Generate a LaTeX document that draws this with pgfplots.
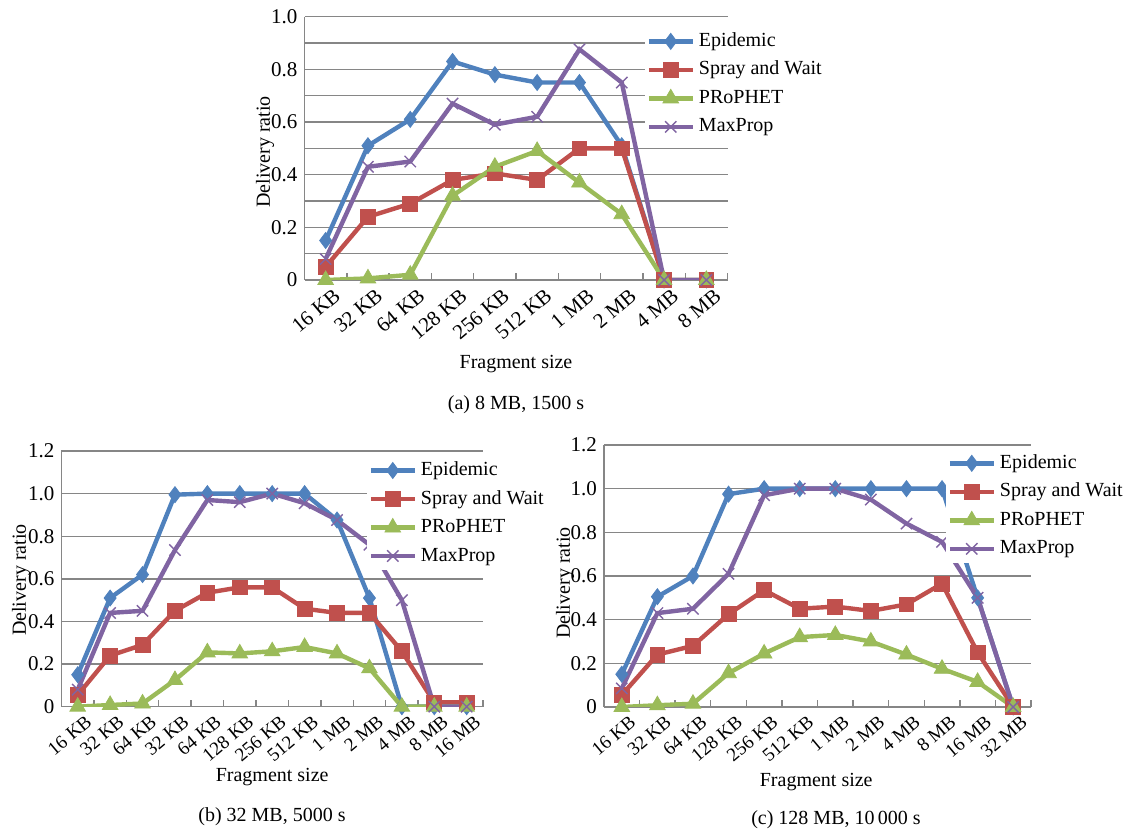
\documentclass[border=0pt]{standalone}
\usepackage{pgfplots}
\pgfplotsset{compat=1.18}
\usepackage{fontspec}
\setmainfont{Liberation Serif}

\definecolor{cEpi}{RGB}{79,129,189}
\definecolor{cSpr}{RGB}{192,80,77}
\definecolor{cPro}{RGB}{155,187,89}
\definecolor{cMax}{RGB}{128,100,162}
\definecolor{gridgray}{RGB}{134,134,134}

\pgfplotsset{
  myaxis/.style={
    scale only axis,
    anchor=south west,
    axis x line=bottom, axis y line=left,
    axis line style={-, draw=gridgray, line width=0.8pt},
    ymin=0,
    ymajorgrids,
    major grid style={draw=gridgray, line width=0.7pt},
    minor grid style={draw=gridgray, line width=0.7pt},
    major tick length=0pt,
    minor tick length=3.5pt,
    tick align=inside,
    minor tick style={draw=gridgray, line width=0.7pt},
    ytick style={draw=none},
    /pgf/number format/assume math mode=true,
    tick label style={font=\fontsize{10.5}{12}\selectfont},
    xticklabel style={xshift=3.5pt, yshift=-3.5pt, rotate=40, anchor=north east, inner sep=0pt},
    label style={font=\fontsize{10}{12}\selectfont},
    legend cell align=left,
    legend style={draw=none, fill=white, anchor=north west,
      font=\fontsize{10}{12}\selectfont,
      nodes={inner ysep=0pt, text height=7.5pt, text depth=2.5pt},
      row sep=4.25pt, inner xsep=1pt, inner ysep=2pt},
    legend image code/.code={\draw[mark repeat=2,mark phase=2] plot coordinates {(0pt,0pt)(11pt,0pt)(22pt,0pt)};},
    every axis plot/.append style={line width=2.2pt},
  },
  sEpi/.style={color=cEpi, mark=diamond*, mark size=4pt, mark options={solid, line width=0.4pt}},
  sSpr/.style={color=cSpr, mark=square*, mark size=3.7pt, mark options={solid, line width=0.4pt}},
  sPro/.style={color=cPro, mark=triangle*, mark size=4.5pt, mark options={solid, line width=0.4pt}},
  sMax/.style={color=cMax, mark=x, mark size=4pt, mark options={solid, line width=0.7pt}},
}

\begin{document}
\begin{tikzpicture}
\path[use as bounding box] (0,0) rectangle (566pt,415.5pt);

% (a)
\begin{axis}[myaxis,
  at={(152.25pt,275.5pt)}, width=211.5pt, height=131.65pt,
  xmin=-0.5, xmax=9.5, ymax=1.0,
  xtick={0,...,9},
  xticklabels={16 KB,32 KB,64 KB,128 KB,256 KB,512 KB,1 MB,2 MB,4 MB,8 MB},
  minor xtick={-0.5,0.5,...,9.5},
  ytick={0,0.2,0.4,0.6,0.8,1.0},
  yticklabels={0,0.2,0.4,0.6,0.8,1.0},
  minor ytick={0.1,0.3,0.5,0.7,0.9}, yminorgrids,
  xlabel={Fragment size}, ylabel={Delivery ratio},
  xlabel style={at={(axis description cs:0.5,-0.32)}, anchor=center},
  ylabel style={at={(axis description cs:-0.093,0.486)}, anchor=center},
  legend style={at={(axis description cs:0.803,0.961)}},
]
\addplot[sEpi] coordinates {(0,0.15)(1,0.51)(2,0.61)(3,0.83)(4,0.78)(5,0.75)(6,0.75)(7,0.51)(8,0)(9,0)};
\addplot[sSpr] coordinates {(0,0.05)(1,0.24)(2,0.29)(3,0.38)(4,0.405)(5,0.38)(6,0.50)(7,0.50)(8,0)(9,0)};
\addplot[sPro] coordinates {(0,0.0)(1,0.006)(2,0.02)(3,0.32)(4,0.43)(5,0.49)(6,0.37)(7,0.25)(8,0)(9,0)};
\addplot[sMax] coordinates {(0,0.08)(1,0.43)(2,0.45)(3,0.67)(4,0.59)(5,0.62)(6,0.876)(7,0.75)(8,0)(9,0)};
\legend{Epidemic,Spray and Wait,PRoPHET,MaxProp}
\end{axis}

% (b)
\begin{axis}[myaxis,
  at={(30.75pt,62.15pt)}, width=210.7pt, height=127.85pt,
  xmin=-0.5, xmax=12.5, ymax=1.2,
  xtick={0,...,12},
  xticklabels={16 KB,32 KB,64 KB,32 KB,64 KB,128 KB,256 KB,512 KB,1 MB,2 MB,4 MB,8 MB,16 MB},
  minor xtick={-0.5,0.5,...,12.5},
  ytick={0,0.2,0.4,0.6,0.8,1.0,1.2},
  yticklabels={0,0.2,0.4,0.6,0.8,1.0,1.2},
  xticklabel style={font=\fontsize{9.5}{11}\selectfont},
  xlabel={Fragment size}, ylabel={Delivery ratio},
  xlabel style={at={(axis description cs:0.5,-0.275)}, anchor=center},
  ylabel style={at={(axis description cs:-0.096,0.495)}, anchor=center},
  legend style={at={(axis description cs:0.723,0.980)}},
]
\addplot[sEpi] coordinates {(0,0.15)(1,0.51)(2,0.62)(3,0.995)(4,1.0)(5,1.0)(6,1.0)(7,1.0)(8,0.876)(9,0.51)(10,0)(11,0)(12,0)};
\addplot[sSpr] coordinates {(0,0.055)(1,0.24)(2,0.29)(3,0.45)(4,0.535)(5,0.56)(6,0.56)(7,0.46)(8,0.44)(9,0.44)(10,0.26)(11,0.02)(12,0.02)};
\addplot[sPro] coordinates {(0,0)(1,0.008)(2,0.015)(3,0.125)(4,0.255)(5,0.25)(6,0.26)(7,0.28)(8,0.25)(9,0.18)(10,0)(11,0)(12,0)};
\addplot[sMax] coordinates {(0,0.08)(1,0.44)(2,0.45)(3,0.735)(4,0.97)(5,0.96)(6,1.0)(7,0.955)(8,0.876)(9,0.76)(10,0.5)(11,0)(12,0)};
\legend{Epidemic,Spray and Wait,PRoPHET,MaxProp}
\end{axis}

% (c)
\begin{axis}[myaxis,
  at={(302pt,62pt)}, width=213.5pt, height=131pt,
  xmin=-0.5, xmax=11.5, ymax=1.2,
  xtick={0,...,11},
  xticklabels={16 KB,32 KB,64 KB,128 KB,256 KB,512 KB,1 MB,2 MB,4 MB,8 MB,16 MB,32 MB},
  minor xtick={-0.5,0.5,...,11.5},
  ytick={0,0.2,0.4,0.6,0.8,1.0,1.2},
  yticklabels={0,0.2,0.4,0.6,0.8,1.0,1.2},
  xticklabel style={font=\fontsize{9.5}{11}\selectfont},
  xlabel={Fragment size}, ylabel={Delivery ratio},
  xlabel style={at={(axis description cs:0.497,-0.285)}, anchor=center},
  ylabel style={at={(axis description cs:-0.091,0.473)}, anchor=center},
  legend style={at={(axis description cs:0.799,0.985)}},
]
\addplot[sEpi] coordinates {(0,0.15)(1,0.505)(2,0.60)(3,0.975)(4,1.0)(5,1.0)(6,1.0)(7,1.0)(8,1.0)(9,1.0)(10,0.5)(11,0)};
\addplot[sSpr] coordinates {(0,0.055)(1,0.24)(2,0.28)(3,0.425)(4,0.535)(5,0.45)(6,0.46)(7,0.44)(8,0.47)(9,0.565)(10,0.25)(11,0)};
\addplot[sPro] coordinates {(0,0)(1,0.008)(2,0.015)(3,0.155)(4,0.245)(5,0.32)(6,0.33)(7,0.30)(8,0.24)(9,0.175)(10,0.115)(11,0)};
\addplot[sMax] coordinates {(0,0.085)(1,0.43)(2,0.45)(3,0.61)(4,0.97)(5,1.0)(6,1.0)(7,0.95)(8,0.84)(9,0.756)(10,0.5)(11,0)};
\legend{Epidemic,Spray and Wait,PRoPHET,MaxProp}
\end{axis}

\node[font=\fontsize{10}{12}\selectfont] at (258pt,213pt) {(a) 8 MB, 1500 s};
\node[font=\fontsize{10}{12}\selectfont] at (136pt,7pt) {(b) 32 MB, 5000 s};
\node[font=\fontsize{10}{12}\selectfont] at (418pt,5.5pt) {(c) 128 MB, 10\,000 s};
\end{tikzpicture}
\end{document}
